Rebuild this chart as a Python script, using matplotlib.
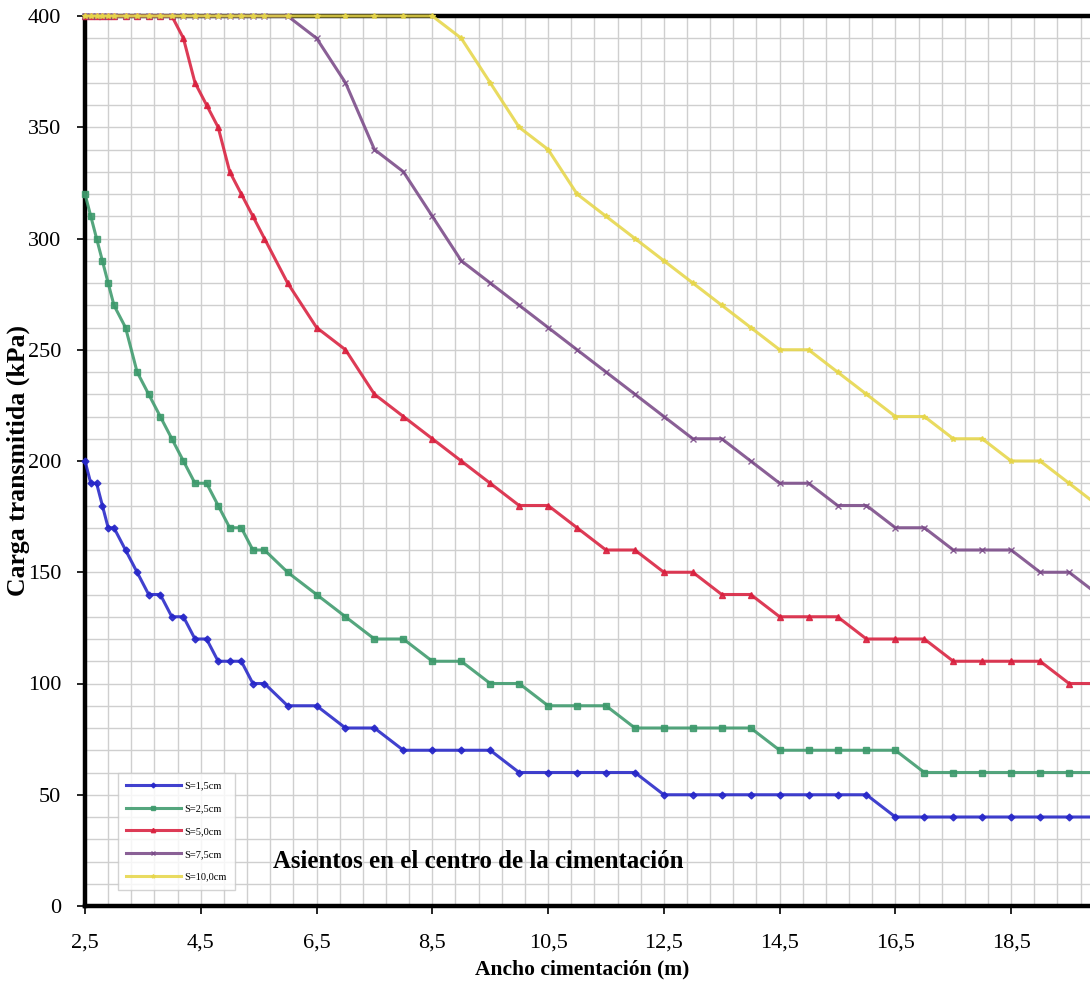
import matplotlib
matplotlib.use("Agg")
import matplotlib.pyplot as plt
from matplotlib.ticker import MultipleLocator, FixedLocator

plt.rcParams['font.family'] = ['Liberation Serif', 'DejaVu Serif']

# Foundation width (m)
ancho = [2.5, 2.6, 2.7, 2.8, 2.9, 3.0, 3.2, 3.4, 3.6, 3.8, 4.0, 4.2, 4.4, 4.6,
         4.8, 5.0, 5.2, 5.4, 5.6, 6.0, 6.5, 7.0, 7.5, 8.0, 8.5, 9.0, 9.5, 10.0,
         10.5, 11.0, 11.5, 12.0, 12.5, 13.0, 13.5, 14.0, 14.5, 15.0, 15.5, 16.0,
         16.5, 17.0, 17.5, 18.0, 18.5, 19.0, 19.5, 20.0]

# Transmitted load (kPa) for each settlement
s_1_5 = [200, 190, 190, 180, 170, 170, 160, 150, 140, 140, 130, 130, 120, 120,
         110, 110, 110, 100, 100, 90, 90, 80, 80, 70, 70, 70, 70, 60,
         60, 60, 60, 60, 50, 50, 50, 50, 50, 50, 50, 50,
         40, 40, 40, 40, 40, 40, 40, 40]
s_2_5 = [320, 310, 300, 290, 280, 270, 260, 240, 230, 220, 210, 200, 190, 190,
         180, 170, 170, 160, 160, 150, 140, 130, 120, 120, 110, 110, 100, 100,
         90, 90, 90, 80, 80, 80, 80, 80, 70, 70, 70, 70,
         70, 60, 60, 60, 60, 60, 60, 60]
s_5_0 = [400, 400, 400, 400, 400, 400, 400, 400, 400, 400, 400, 390, 370, 360,
         350, 330, 320, 310, 300, 280, 260, 250, 230, 220, 210, 200, 190, 180,
         180, 170, 160, 160, 150, 150, 140, 140, 130, 130, 130, 120,
         120, 120, 110, 110, 110, 110, 100, 100]
s_7_5 = [400, 400, 400, 400, 400, 400, 400, 400, 400, 400, 400, 400, 400, 400,
         400, 400, 400, 400, 400, 400, 390, 370, 340, 330, 310, 290, 280, 270,
         260, 250, 240, 230, 220, 210, 210, 200, 190, 190, 180, 180,
         170, 170, 160, 160, 160, 150, 150, 140]
s_10_0 = [400, 400, 400, 400, 400, 400, 400, 400, 400, 400, 400, 400, 400, 400,
          400, 400, 400, 400, 400, 400, 400, 400, 400, 400, 400, 390, 370, 350,
          340, 320, 310, 300, 290, 280, 270, 260, 250, 250, 240, 230,
          220, 220, 210, 210, 200, 200, 190, 180]

series = [
    ("S=1,5cm", s_1_5, "#2626c8", "D", 3.5),
    ("S=2,5cm", s_2_5, "#3d9a6c", "s", 4.5),
    ("S=5,0cm", s_5_0, "#d9203e", "^", 4.5),
    ("S=7,5cm", s_7_5, "#7a4a88", "x", 4.0),
    ("S=10,0cm", s_10_0, "#e6d64a", "*", 4.0),
]

x_ticks = [2.5, 4.5, 6.5, 8.5, 10.5, 12.5, 14.5, 16.5, 18.5]
x_ticklabels = ["2,5", "4,5", "6,5", "8,5", "10,5", "12,5", "14,5", "16,5", "18,5"]
y_ticks = [0, 50, 100, 150, 200, 250, 300, 350, 400]

W, H = 1090, 982
fig = plt.figure(figsize=(W / 100, H / 100), dpi=100)

left_px, right_px, top_px, bottom_px = 85, 1098, 16, 906
ax = fig.add_axes([left_px / W, (H - bottom_px) / H,
                   (right_px - left_px) / W, (bottom_px - top_px) / H])

for label, vals, color, marker, ms in series:
    ax.plot(ancho, vals, color=color, lw=2.2, marker=marker, ms=ms,
            mew=1.0, mec=color, mfc=color, label=label, clip_on=False,
            zorder=3, alpha=0.88)

ax.set_xlim(2.5, 20.0)
ax.set_ylim(0, 400)

# light grid: every 0.4 m horizontally, every 10 kPa vertically
grid_x = [2.5 + 0.4 * i for i in range(1, 44)]
ax.xaxis.set_minor_locator(FixedLocator(grid_x))
ax.yaxis.set_minor_locator(MultipleLocator(10))
ax.grid(which='both', color='#cfcfcf', lw=1.0, zorder=0)
ax.set_axisbelow(True)

ax.set_xticks(x_ticks)
ax.set_xticklabels(x_ticklabels)
ax.set_yticks(y_ticks)
ax.tick_params(which='major', direction='out', length=6, width=1.2,
               labelsize=16)
ax.tick_params(axis='x', pad=14)
ax.tick_params(axis='y', pad=11)
ax.tick_params(which='minor', length=0)

for side in ('left', 'bottom', 'top'):
    ax.spines[side].set_linewidth(3.2)
    ax.spines[side].set_color('black')
ax.spines['right'].set_visible(False)

fig.text(582 / W, 1 - 969 / H, "Ancho cimentación (m)", ha='center',
         va='center', fontsize=15.5, fontweight='bold')
fig.text(18 / W, 1 - 460 / H, "Carga transmitida (kPa)", ha='center',
         va='center', rotation=90, fontsize=18.5, fontweight='bold')
fig.text(273 / W, 1 - 862 / H, "Asientos en el centro de la cimentación",
         ha='left', va='center', fontsize=17.9, fontweight='bold')

leg = ax.legend(loc='lower left',
                bbox_to_anchor=((118 - left_px) / (right_px - left_px),
                                (bottom_px - 890) / (bottom_px - top_px)),
                fontsize=7.5, frameon=True, fancybox=False, shadow=False,
                handlelength=5.2, handletextpad=0.4, labelspacing=1.3,
                borderpad=0.8, borderaxespad=0, markerscale=0.7)
leg.get_frame().set_edgecolor('#c8c8c8')
leg.get_frame().set_linewidth(1.0)

fig.savefig("out.png", dpi=100)
